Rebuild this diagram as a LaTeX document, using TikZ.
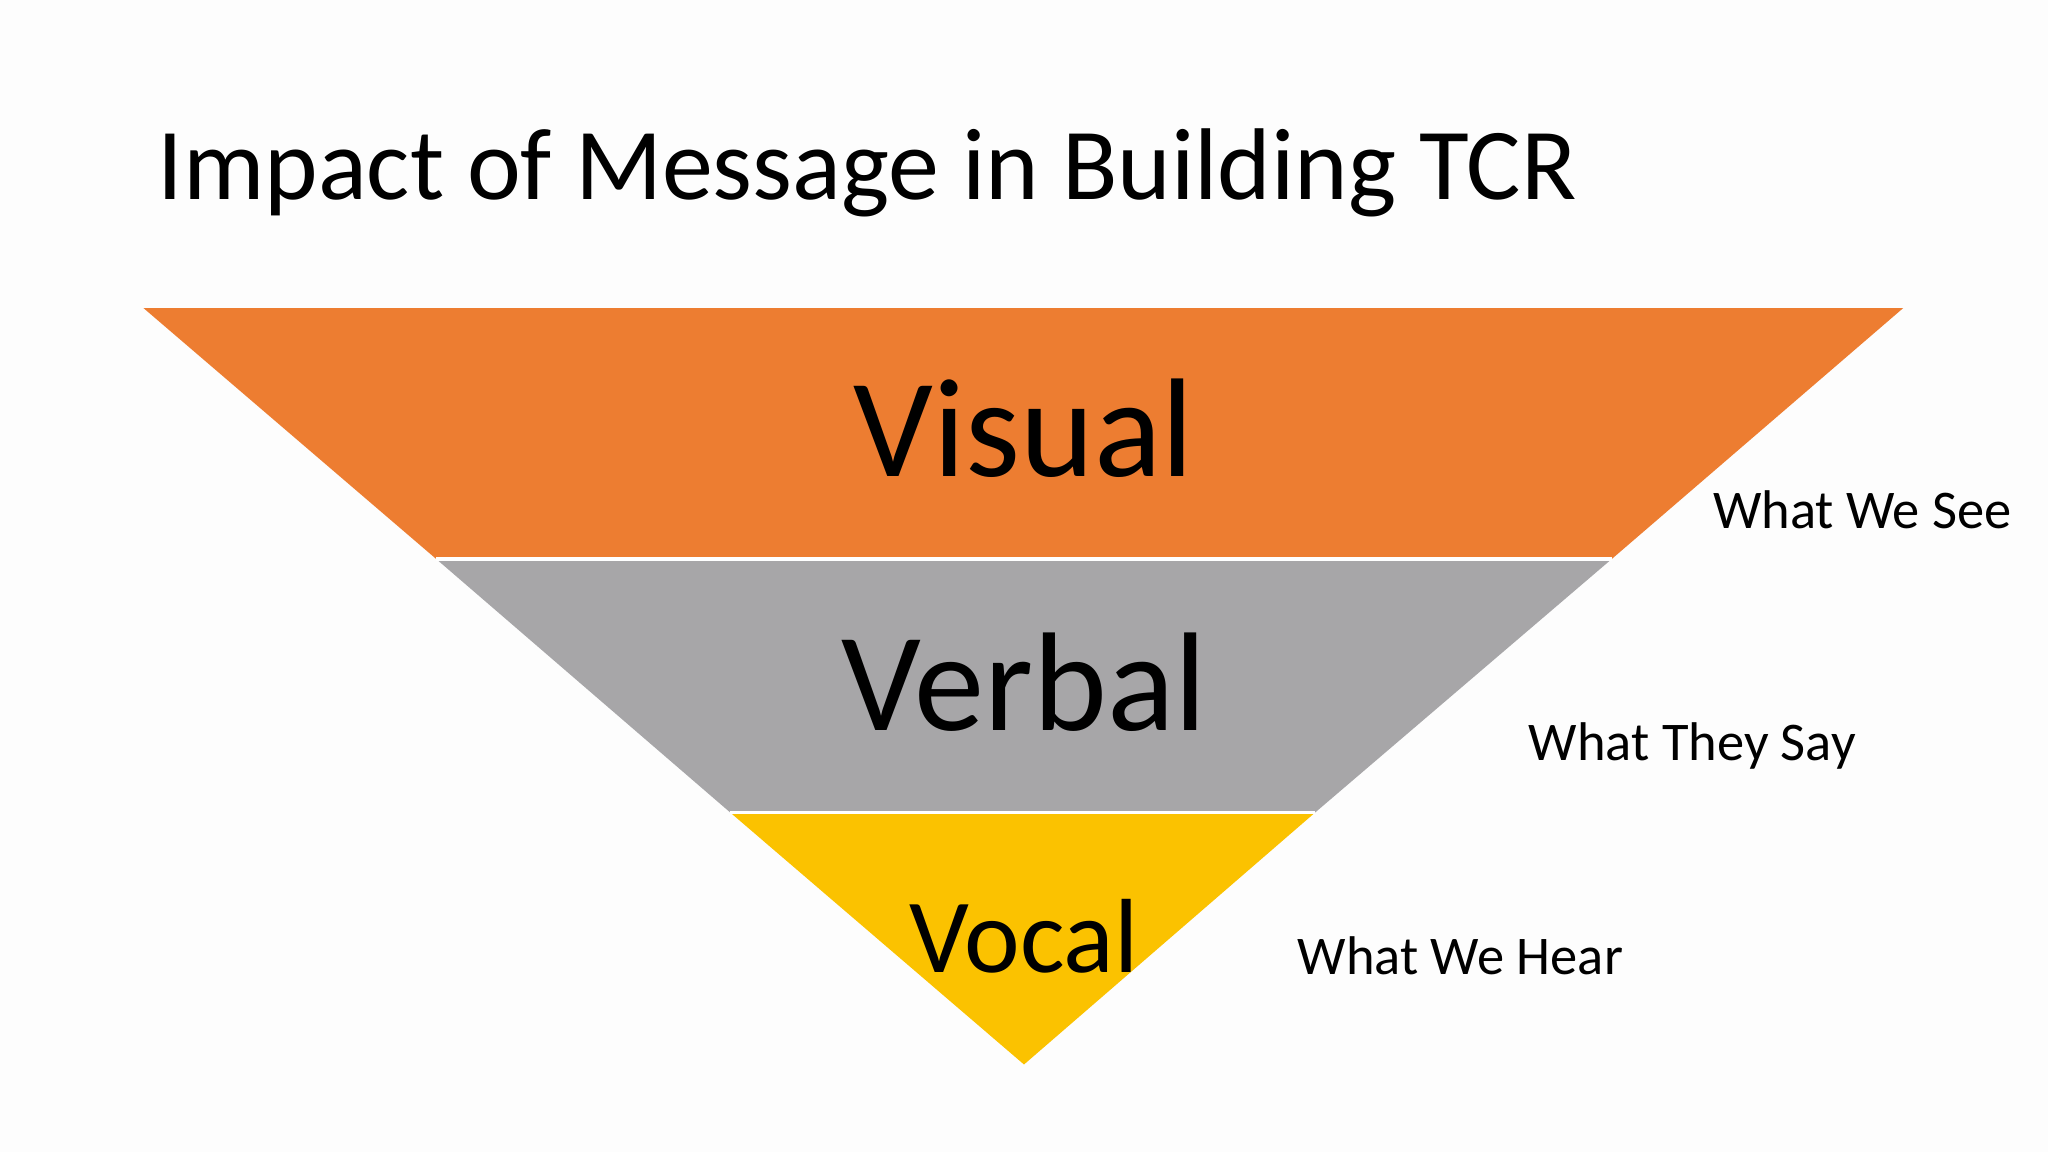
\documentclass[tikz,border=0pt]{standalone}
\usepackage{fontspec}
\setmainfont{Carlito}
\definecolor{orangeband}{HTML}{ED7D31}
\definecolor{grayband}{HTML}{A7A6A8}
\definecolor{yellowband}{HTML}{FBC200}
\definecolor{bg}{HTML}{FDFDFD}
\begin{document}
\begin{tikzpicture}[x=0.013061cm,y=-0.013061cm,
  band/.style={draw=white,line width=1pt},
  big/.style={font=\fontsize{40}{44}\selectfont,anchor=center},
  side/.style={font=\fontsize{15.5}{18}\selectfont,anchor=base west}]
\fill[bg] (0,0) rectangle (1568,882);
\useasboundingbox (0,0) rectangle (1568,882);
\coordinate (tl) at (110,236); \coordinate (tr) at (1457,236);
\coordinate (ml) at (334,428); \coordinate (mr) at (1234,428);
\coordinate (ll) at (559,622); \coordinate (lr) at (1007,622);
\coordinate (apex) at (784,815);
\fill[orangeband] (tl) -- (tr) -- (mr) -- (ml) -- cycle;
\fill[grayband] (ml) -- (mr) -- (lr) -- (ll) -- cycle;
\fill[yellowband] (ll) -- (lr) -- (apex) -- cycle;
\draw[band] (ml) -- (mr);
\draw[band] (ll) -- (lr);
\node[font=\fontsize{29}{34}\selectfont,anchor=base west,inner sep=0pt] (title) at (120,153) {Impact of Message in Building TCR};
\node[big] (visual) at (784,328) {Visual};
\node[big] (verbal) at (784,522) {Verbal};
\node[big,font=\fontsize{30}{34}\selectfont] (vocal) at (784,717) {Vocal};
\node[side,inner sep=0pt] (see) at (1311,405) {What We See};
\node[side,inner sep=0pt] (say) at (1170,582) {What They Say};
\node[side,inner sep=0pt] (hear) at (993,746) {What We Hear};
\end{tikzpicture}
\end{document}
